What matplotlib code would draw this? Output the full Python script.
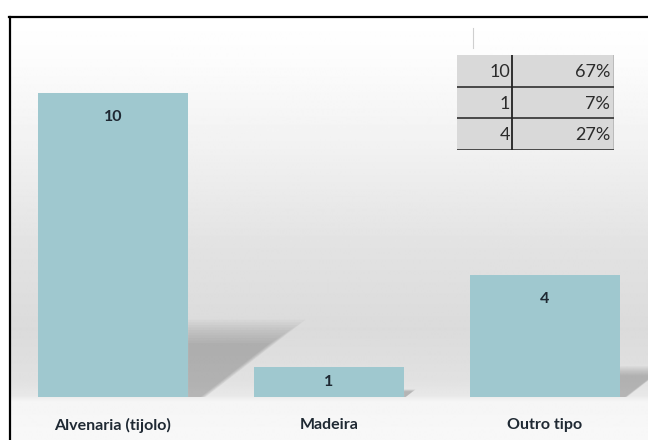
import numpy as np
import matplotlib.pyplot as plt
from matplotlib.patches import Polygon, Rectangle

# data
categories = ["Alvenaria (tijolo)", "Madeira", "Outro tipo"]
counts = [10, 1, 4]
percents = ["67%", "7%", "27%"]

bar_color = "#9fc8cf"
text_color = "#1f2933"
W, H = 648, 440

fig = plt.figure(figsize=(6.48, 4.4), dpi=100)
fig.patch.set_facecolor("white")

def px(x, y, w, h):
    # pixel box (top-left origin) -> figure fraction
    return [x / W, (H - y - h) / H, w / W, h / H]

# background gradient inside the frame
bg = fig.add_axes(px(10, 17, 638, 423))
bg.set_axis_off()
yy = np.linspace(17, 440, 423)
prof = np.interp(yy, [17, 60, 150, 250, 330, 380, 396, 402, 440],
                 [255, 252, 241, 226, 219, 225, 232, 245, 248]) / 255.0
grad = np.repeat(prof[:, None], 2, axis=1)
bg.imshow(grad, cmap="gray", vmin=0, vmax=1, aspect="auto",
          extent=[0, 1, 0, 1], interpolation="bilinear")
bg.set_xlim(0, 1)
bg.set_ylim(0, 1)

# frame lines (top and left)
fig.add_artist(plt.Line2D([9 / W, 1], [1 - 17 / H, 1 - 17 / H], color="black", lw=1.6))
fig.add_artist(plt.Line2D([10 / W, 10 / W], [0, 1 - 17 / H], color="black", lw=1.6))
fig.add_artist(plt.Line2D([473 / W, 473 / W], [1 - 28 / H, 1 - 48 / H], color="#cfcfcf", lw=0.8))

# main bar axes
ax = fig.add_axes(px(10, 17, 638, 380))
ax.patch.set_alpha(0)
x = np.arange(len(categories))
bw = 0.695
ax.set_xlim(-0.477, 2.477)
ax.set_ylim(0, 12.5)

# soft shadows behind bars
for xi, v in zip(x, counts):
    r = xi + bw / 2
    for f in np.linspace(0.78, 1.12, 10):
        hs = 0.227 * v * f
        ls = 0.0486 * v * f
        poly = Polygon([(r, 0), (r, hs), (r + ls, hs), (r + 0.15 * ls, 0)],
                       closed=True, facecolor="#7a7a7a", edgecolor="none",
                       alpha=0.055, zorder=1)
        ax.add_patch(poly)

bars = ax.bar(x, counts, width=bw, color=bar_color, zorder=2)

for rect, v in zip(bars, counts):
    hpx = v * 380 / 12.5
    off = min(24, hpx / 2)
    ax.annotate(str(v), (rect.get_x() + rect.get_width() / 2, v),
                xytext=(0, -off), textcoords="offset pixels",
                ha="center", va="center", fontsize=11.5, fontweight="bold",
                color=text_color, family="Lato", zorder=3)

ax.set_xticks(x)
ax.set_xticklabels(categories, fontsize=11.5, fontweight="bold", family="Lato",
                   color=text_color)
ax.tick_params(axis="x", length=0, pad=15)
ax.set_yticks([])
for sp in ax.spines.values():
    sp.set_visible(False)

# small data table at top right
tb = fig.add_axes(px(457, 55, 157, 95))
tb.set_xlim(0, 157)
tb.set_ylim(95, 0)
tb.set_axis_off()
row_h = 95 / 3
tb.add_patch(Rectangle((0, 0), 157, 95, facecolor="#d9d9d9", edgecolor="none"))
for i, (c, p) in enumerate(zip(counts, percents)):
    yc = (i + 0.5) * row_h + 1
    tb.text(53, yc, str(c), ha="right", va="center", fontsize=13,
            family="Lato", color="#2b2b2b")
    tb.text(153, yc, p, ha="right", va="center", fontsize=13,
            family="Lato", color="#2b2b2b")
    tb.plot([0, 157], [(i + 1) * row_h, (i + 1) * row_h], color="#222222", lw=1.1)
tb.plot([55, 55], [0, 95], color="#222222", lw=1.3)
tb.plot([156.5, 156.5], [0, 95], color="#444444", lw=1.0)

fig.savefig("out.png", dpi=100)
